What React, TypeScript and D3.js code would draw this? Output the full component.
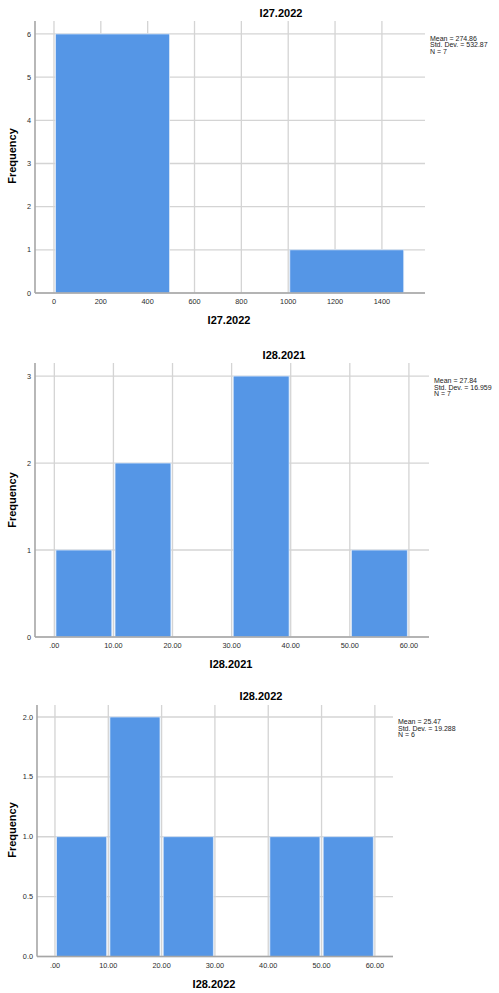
import * as d3 from "d3";

// three SPSS histograms
const i27y2022Bins = [
  { x0: 0, x1: 500, count: 6 },
  { x0: 1000, x1: 1500, count: 1 },
];
const i28y2021Bins = [
  { x0: 0, x1: 10, count: 1 },
  { x0: 10, x1: 20, count: 2 },
  { x0: 30, x1: 40, count: 3 },
  { x0: 50, x1: 60, count: 1 },
];
const i28y2022Bins = [
  { x0: 0, x1: 10, count: 1 },
  { x0: 10, x1: 20, count: 2 },
  { x0: 20, x1: 30, count: 1 },
  { x0: 40, x1: 50, count: 1 },
  { x0: 50, x1: 60, count: 1 },
];

const i27y2022XTicks = [0, 200, 400, 600, 800, 1000, 1200, 1400];
const i28XTicks = [0, 10, 20, 30, 40, 50, 60];
const i27y2022YTicks = [0, 1, 2, 3, 4, 5, 6];
const i28y2021YTicks = [0, 1, 2, 3];
const i28y2022YTicks = [0, 0.5, 1, 1.5, 2];

const titles = ["I27.2022", "I28.2021", "I28.2022"];
const stats = [
  ["Mean = 274.86", "Std. Dev. = 532.87", "N = 7"],
  ["Mean = 27.84", "Std. Dev. = 16.959", "N = 7"],
  ["Mean = 25.47", "Std. Dev. = 19.288", "N = 6"],
];

const fmtInt = d3.format("d");
const fmtDec2 = (v: number) => (v === 0 ? ".00" : d3.format(".2f")(v));
const fmtDec1 = d3.format(".1f");

interface Bin {
  x0: number;
  x1: number;
  count: number;
}

interface PanelProps {
  bins: Bin[];
  title: string;
  stat: string[];
  xTicks: number[];
  yTicks: number[];
  xFormat: (v: number) => string;
  yFormat: (v: number) => string;
  box: { left: number; right: number; top: number; bottom: number };
  xDomain: [number, number];
  yMax: number;
  titleX: number;
  titleY: number;
  statX: number;
  statY: number;
  labelY: number;
}

const FONT = "'Liberation Sans', Arial, sans-serif";
const GRID = "#d4d4d4";
const AXIS = "#a6a6a6";
const BAR = "#5596e6";

const Panel = (props: PanelProps) => {
  const { bins, title, stat, xTicks, yTicks, xFormat, yFormat, box } = props;

  const x = d3.scaleLinear().domain(props.xDomain).range([box.left, box.right]);
  const y = d3.scaleLinear().domain([0, props.yMax]).range([box.bottom, box.top]);

  return (
    <g>
      {yTicks.map((t) => (
        <line key={"gy" + t} x1={box.left} x2={box.right} y1={y(t)} y2={y(t)} stroke={GRID} strokeWidth={1.3} />
      ))}
      {xTicks.map((t) => (
        <line key={"gx" + t} x1={x(t)} x2={x(t)} y1={box.top} y2={box.bottom} stroke={GRID} strokeWidth={1.3} />
      ))}
      {bins.map((b, i) => (
        <rect
          key={i}
          x={x(b.x0) + 1.6}
          width={x(b.x1) - x(b.x0) - 3.2}
          y={y(b.count)}
          height={y(0) - y(b.count)}
          fill={BAR}
          stroke="#dbe8f8"
          strokeWidth={0.8}
        />
      ))}
      <line x1={box.left} x2={box.left} y1={box.top} y2={box.bottom} stroke={AXIS} strokeWidth={1.6} />
      <line x1={box.left} x2={box.right} y1={box.bottom} y2={box.bottom} stroke={AXIS} strokeWidth={1.6} />

      {yTicks.map((t) => (
        <text key={"ly" + t} x={box.left - 4} y={y(t) + 2.6} fontSize={7.3} fill="#2b2b2b" textAnchor="end" fontFamily={FONT}>
          {yFormat(t)}
        </text>
      ))}
      {xTicks.map((t) => (
        <text key={"lx" + t} x={x(t)} y={box.bottom + 11} fontSize={7.3} fill="#2b2b2b" textAnchor="middle" fontFamily={FONT}>
          {xFormat(t)}
        </text>
      ))}

      <text x={props.titleX} y={props.titleY} fontSize={11} fontWeight="bold" textAnchor="middle" fontFamily={FONT}>
        {title}
      </text>
      <text x={(box.left + box.right) / 2 - 1} y={box.bottom + 31} fontSize={11} fontWeight="bold" textAnchor="middle" fontFamily={FONT}>
        {title}
      </text>
      <text
        transform={`translate(15.5, ${props.labelY}) rotate(-90)`}
        fontSize={11}
        fontWeight="bold"
        textAnchor="middle"
        fontFamily={FONT}
      >
        Frequency
      </text>
      {stat.map((s, i) => (
        <text key={s} x={props.statX} y={props.statY + i * 6.5} fontSize={7} fill="#222" fontFamily={FONT}>
          {s}
        </text>
      ))}
    </g>
  );
};

export default function App() {
  return (
    <svg width={499} height={993} style={{ position: "absolute", left: 0, top: 0, background: "#fff" }}>
      <Panel
        bins={i27y2022Bins}
        title={titles[0]}
        stat={stats[0]}
        xTicks={i27y2022XTicks}
        yTicks={i27y2022YTicks}
        xFormat={fmtInt}
        yFormat={fmtInt}
        box={{ left: 35, right: 425, top: 21, bottom: 293 }}
        xDomain={[-81, 1584]}
        yMax={6.3}
        titleX={281}
        titleY={17}
        statX={430}
        statY={40.5}
        labelY={156}
      />
      <Panel
        bins={i28y2021Bins}
        title={titles[1]}
        stat={stats[1]}
        xTicks={i28XTicks}
        yTicks={i28y2021YTicks}
        xFormat={fmtDec2}
        yFormat={fmtInt}
        box={{ left: 35, right: 429, top: 363, bottom: 637 }}
        xDomain={[-3.27, 63.4]}
        yMax={3.15}
        titleX={284}
        titleY={359}
        statX={434}
        statY={383}
        labelY={500}
      />
      <Panel
        bins={i28y2022Bins}
        title={titles[2]}
        stat={stats[2]}
        xTicks={i28XTicks}
        yTicks={i28y2022YTicks}
        xFormat={fmtDec2}
        yFormat={fmtDec1}
        box={{ left: 37, right: 393, top: 705, bottom: 956.5 }}
        xDomain={[-3.37, 63.4]}
        yMax={2.1}
        titleX={261}
        titleY={700}
        statX={398}
        statY={724}
        labelY={830}
      />
    </svg>
  );
}
